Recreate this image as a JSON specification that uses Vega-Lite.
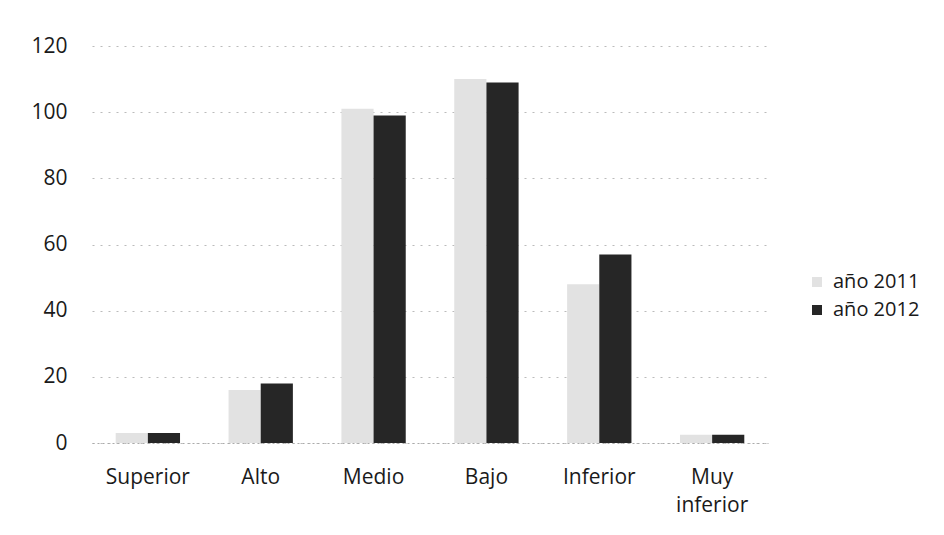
{
  "$schema": "https://vega.github.io/schema/vega-lite/v6.json",
  "autosize": "none",
  "width": 676,
  "height": 397,
  "padding": {"left": 92, "top": 46, "right": 176, "bottom": 92},
  "background": "white",
  "config": {"view": {"stroke": null}, "font": "Open Sans"},
  "data": {"values": [
    {"nivel": "Superior", "serie": "año 2011", "valor": 3},
    {"nivel": "Superior", "serie": "año 2012", "valor": 3},
    {"nivel": "Alto", "serie": "año 2011", "valor": 16},
    {"nivel": "Alto", "serie": "año 2012", "valor": 18},
    {"nivel": "Medio", "serie": "año 2011", "valor": 101},
    {"nivel": "Medio", "serie": "año 2012", "valor": 99},
    {"nivel": "Bajo", "serie": "año 2011", "valor": 110},
    {"nivel": "Bajo", "serie": "año 2012", "valor": 109},
    {"nivel": "Inferior", "serie": "año 2011", "valor": 48},
    {"nivel": "Inferior", "serie": "año 2012", "valor": 57},
    {"nivel": "Muy inferior", "serie": "año 2011", "valor": 2.5},
    {"nivel": "Muy inferior", "serie": "año 2012", "valor": 2.5}
  ]},
  "mark": {"type": "bar"},
  "encoding": {
    "x": {"field": "nivel", "type": "nominal", "sort": null,
      "scale": {"paddingInner": 0.43, "paddingOuter": 0.21},
      "axis": {"title": null, "labelAngle": 0, "labelFontSize": 21, "labelColor": "#1a1a1a", "ticks": false,
        "domainColor": "#aaa", "domainDash": [2, 3], "labelPadding": 23, "labelLineHeight": 28,
        "labelExpr": "datum.label == 'Muy inferior' ? ['Muy', 'inferior'] : datum.label"}},
    "xOffset": {"field": "serie", "type": "nominal"},
    "y": {"field": "valor", "type": "quantitative",
      "scale": {"domain": [0, 120]},
      "axis": {"title": null, "values": [0, 20, 40, 60, 80, 100, 120], "labelFontSize": 21, "labelColor": "#1a1a1a",
        "ticks": false, "domain": false, "labelPadding": 25, "gridColor": "#bbb", "gridDash": [2, 6]}},
    "color": {"field": "serie", "type": "nominal",
      "scale": {"domain": ["año 2011", "año 2012"], "range": ["#e2e2e2", "#262626"]},
      "legend": {"title": null, "orient": "none", "legendX": 715, "legendY": 226, "labelFontSize": 20,
        "labelColor": "#1a1a1a", "symbolType": "square", "symbolSize": 100, "rowPadding": 8, "labelOffset": 6}}
  }
}
